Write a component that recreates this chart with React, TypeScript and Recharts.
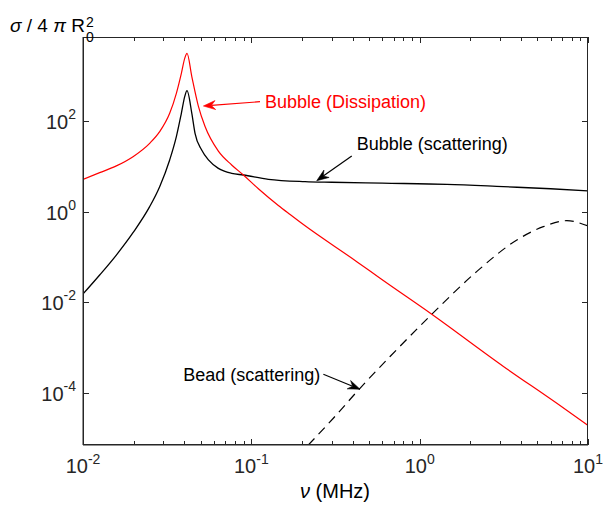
import React from 'react';
import { LineChart, Line, XAxis, YAxis, ReferenceLine } from 'recharts';

const FONT = '"Liberation Sans", Arial, Helvetica, sans-serif';
const AXIS_COLOR = '#262626';

// ---- ticks ----
const xMajorTicks = [0.01, 0.1, 1, 10];
const xTickExponents = ['-2', '-1', '0', '1'];
const xMinorTicks = [
  0.02, 0.03, 0.04, 0.05, 0.06, 0.07, 0.08, 0.09,
  0.2, 0.3, 0.4, 0.5, 0.6, 0.7, 0.8, 0.9,
  2, 3, 4, 5, 6, 7, 8, 9,
];
const yMajorTicks = [1e-4, 1e-2, 1, 1e2];
const yTickExponents = ['-4', '-2', '0', '2'];

const xDomain = [0.01, 10];
const yDomain = [7.26e-6, 7.05e3];

// ---- series: Bubble (Dissipation) ----
const dissipationFreq = [
  0.01, 0.01256, 0.01578, 0.01982, 0.02489, 0.02854, 0.03273, 0.03586, 0.0384, 0.0402, 0.0415,
  0.0443, 0.0484, 0.0531, 0.0637, 0.0764, 0.0897, 0.1101, 0.1447, 0.17, 0.2038, 0.423, 0.582,
  1.18, 3.145, 6.53, 10,
];
const dissipationValue = [
  5.16, 7.24, 10.2, 16.3, 32.1, 57.9, 147, 405, 1116, 2388, 3077,
  950, 215, 75, 21.5, 10.7, 6.43, 3.2, 1.37, 0.865, 0.52, 0.0794, 0.0341,
  0.0055, 3.9e-4, 6.0e-5, 1.95e-5,
];

// ---- series: Bubble (scattering) ----
const scatteringFreq = [
  0.01, 0.01256, 0.01578, 0.01982, 0.02489, 0.02854, 0.03273, 0.03586, 0.0384, 0.0402, 0.0415,
  0.0443, 0.0463, 0.0507, 0.0556, 0.0637, 0.0764, 0.0897, 0.1262, 0.2085, 0.3, 0.6, 1.45, 3.14,
  6, 10,
];
const scatteringValue = [
  0.01538, 0.0403, 0.111, 0.345, 1.29, 3.56, 13.8, 45.0, 147, 342, 463,
  147, 53.2, 22.9, 13.8, 9.02, 7.0, 6.43, 5.16, 4.6, 4.45, 4.25, 4.01, 3.56,
  3.2, 2.86,
];

// ---- series: Bead (scattering) ----
const beadFreq = [0.218, 0.307, 0.4325, 0.667, 1.18, 2.18, 3.78, 5.43, 7.48, 10];
const beadValue = [7.26e-6, 2.82e-5, 1.18e-4, 6.46e-4, 5.5e-3, 0.0479, 0.238, 0.468, 0.634, 0.484];

// ---- annotations ----
const annotationLabels = ['Bubble (Dissipation)', 'Bubble (scattering)', 'Bead (scattering)'];
const annotationColors = ['#ff0000', '#000000', '#000000'];
const annotationTailFreq = [0.1126, 0.395, 0.2679];
const annotationTailValue = [265, 16.9, 2.62e-4];
const annotationTipFreq = [0.0519, 0.2446, 0.4422];
const annotationTipValue = [213, 4.82, 1.23e-4];

const toPoints = (xs: number[], ys: number[]) => xs.map((x, i) => ({ x, y: ys[i] }));
const dissipationData = toPoints(dissipationFreq, dissipationValue);
const scatteringData = toPoints(scatteringFreq, scatteringValue);
const beadData = toPoints(beadFreq, beadValue);
const allXTicks = [...xMajorTicks, ...xMinorTicks].sort((a, b) => a - b);

// layout
const CHART_W = 611;
const CHART_H = 506;
const MARGIN = { top: 37, right: 23, bottom: 21, left: 23 };
const Y_AXIS_W = 60;
const X_AXIS_H = 40;
const PLOT_L = MARGIN.left + Y_AXIS_W;
const PLOT_T = MARGIN.top;
const PLOT_W = CHART_W - MARGIN.left - MARGIN.right - Y_AXIS_W;
const PLOT_H = CHART_H - MARGIN.top - MARGIN.bottom - X_AXIS_H;

const MAJOR_LEN = 6;
const MINOR_LEN = 4;

// frame-tick helpers (axis decoration only, same log mapping as the axes)
const lx0 = Math.log10(xDomain[0]);
const lx1 = Math.log10(xDomain[1]);
const ly0 = Math.log10(yDomain[0]);
const ly1 = Math.log10(yDomain[1]);
const tickX = (v: number) => PLOT_L + (PLOT_W * (Math.log10(v) - lx0)) / (lx1 - lx0);
const tickY = (v: number) => PLOT_T + PLOT_H - (PLOT_H * (Math.log10(v) - ly0)) / (ly1 - ly0);

function BottomTick(props: any) {
  const { x, y, payload } = props;
  const i = xMajorTicks.indexOf(payload.value);
  if (i < 0) return <g />;
  return (
    <text x={x} y={y + 28} textAnchor="middle" fontFamily={FONT} fontSize={20} fill="#262626">
      10<tspan dy={-9} fontSize={14}>{xTickExponents[i]}</tspan>
    </text>
  );
}

function LeftTick(props: any) {
  const { x, y, payload } = props;
  const i = yMajorTicks.indexOf(payload.value);
  return (
    <text x={x - 7} y={y + 8} textAnchor="end" fontFamily={FONT} fontSize={20} fill="#262626">
      10<tspan dy={-10} fontSize={14}>{yTickExponents[i]}</tspan>
    </text>
  );
}

const labelOffsets = [
  { dx: 5, dy: 6, anchor: 'start' },
  { dx: 5, dy: -5.5, anchor: 'start' },
  { dx: -3, dy: 6.5, anchor: 'end' },
];

function makeArrowShape(idx: number) {
  const label = annotationLabels[idx];
  const color = annotationColors[idx];
  const off = labelOffsets[idx];
  return (props: any) => {
    const x1 = Number(props.x1);
    const y1 = Number(props.y1);
    const x2 = Number(props.x2);
    const y2 = Number(props.y2);
    const ang = Math.atan2(y2 - y1, x2 - x1);
    const L = 12;
    const W = 4.5;
    const notch = 8;
    const ux = Math.cos(ang);
    const uy = Math.sin(ang);
    const px = -uy;
    const py = ux;
    const bx = x2 - ux * L;
    const by = y2 - uy * L;
    const nx = x2 - ux * notch;
    const ny = y2 - uy * notch;
    const pts = `${x2},${y2} ${bx + px * W},${by + py * W} ${nx},${ny} ${bx - px * W},${by - py * W}`;
    return (
      <g>
        <line x1={x1} y1={y1} x2={nx} y2={ny} stroke={color} strokeWidth={1.2} />
        <polygon points={pts} fill={color} stroke={color} strokeWidth={0.6} />
        <text x={x1 + off.dx} y={y1 + off.dy} textAnchor={off.anchor} fill={color} fontSize={18} fontFamily={FONT}>
          {label}
        </text>
      </g>
    );
  };
}

export default function App() {
  return (
    <div style={{ position: 'absolute', left: 0, top: 0, width: CHART_W, height: CHART_H, background: '#fff' }}>
      <LineChart width={CHART_W} height={CHART_H} margin={MARGIN}>
        <XAxis
          xAxisId="bottom"
          orientation="bottom"
          type="number"
          dataKey="x"
          scale="log"
          domain={xDomain}
          allowDataOverflow
          ticks={allXTicks}
          interval={0}
          tick={<BottomTick />}
          tickLine={false}
          tickSize={0}
          tickMargin={0}
          height={X_AXIS_H}
          axisLine={{ stroke: AXIS_COLOR, strokeWidth: 1 }}
        />
        <YAxis
          yAxisId="left"
          orientation="left"
          type="number"
          dataKey="y"
          scale="log"
          domain={yDomain}
          allowDataOverflow
          ticks={yMajorTicks}
          interval={0}
          tick={<LeftTick />}
          tickLine={false}
          tickSize={0}
          tickMargin={0}
          width={Y_AXIS_W}
          axisLine={{ stroke: AXIS_COLOR, strokeWidth: 1 }}
        />
        <Line
          data={beadData}
          xAxisId="bottom"
          yAxisId="left"
          dataKey="y"
          type="monotone"
          stroke="#000000"
          strokeWidth={1.2}
          strokeDasharray="9 6"
          dot={false}
          activeDot={false}
          isAnimationActive={false}
        />
        <Line
          data={scatteringData}
          xAxisId="bottom"
          yAxisId="left"
          dataKey="y"
          type="monotone"
          stroke="#000000"
          strokeWidth={1.3}
          dot={false}
          activeDot={false}
          isAnimationActive={false}
        />
        <Line
          data={dissipationData}
          xAxisId="bottom"
          yAxisId="left"
          dataKey="y"
          type="monotone"
          stroke="#ff0000"
          strokeWidth={1.2}
          dot={false}
          activeDot={false}
          isAnimationActive={false}
        />
        {annotationLabels.map((_, i) => (
          <ReferenceLine
            key={i}
            xAxisId="bottom"
            yAxisId="left"
            segment={[
              { x: annotationTailFreq[i], y: annotationTailValue[i] },
              { x: annotationTipFreq[i], y: annotationTipValue[i] },
            ]}
            shape={makeArrowShape(i)}
          />
        ))}
      </LineChart>
      <svg
        width={CHART_W}
        height={CHART_H}
        style={{ position: 'absolute', left: 0, top: 0, pointerEvents: 'none' }}
      >
        <rect
          x={PLOT_L + 0.5}
          y={PLOT_T + 0.5}
          width={PLOT_W - 1}
          height={PLOT_H - 1}
          fill="none"
          stroke={AXIS_COLOR}
          strokeWidth={1}
        />
        {allXTicks.map((v) => {
          const major = xMajorTicks.indexOf(v) >= 0;
          const len = major ? MAJOR_LEN : MINOR_LEN;
          const x = Math.round(tickX(v)) + 0.5;
          return (
            <g key={`xt${v}`}>
              <line x1={x} x2={x} y1={PLOT_T + PLOT_H} y2={PLOT_T + PLOT_H - len} stroke={AXIS_COLOR} strokeWidth={1} />
              <line x1={x} x2={x} y1={PLOT_T} y2={PLOT_T + len} stroke={AXIS_COLOR} strokeWidth={1} />
            </g>
          );
        })}
        {yMajorTicks.map((v) => {
          const y = Math.round(tickY(v)) + 0.5;
          return (
            <g key={`yt${v}`}>
              <line x1={PLOT_L} x2={PLOT_L + MAJOR_LEN} y1={y} y2={y} stroke={AXIS_COLOR} strokeWidth={1} />
              <line x1={PLOT_L + PLOT_W} x2={PLOT_L + PLOT_W - MAJOR_LEN} y1={y} y2={y} stroke={AXIS_COLOR} strokeWidth={1} />
            </g>
          );
        })}
        <text x={10} y={32} fontFamily={FONT} fontSize={19} fill="#000">
          <tspan fontStyle="italic">σ</tspan> / 4 <tspan fontStyle="italic">π</tspan> R
          <tspan dx={1} dy={-5} fontSize={14}>2</tspan>
          <tspan dx={-7.8} dy={15} fontSize={14}>0</tspan>
        </text>
        <text x={335} y={498} textAnchor="middle" fontFamily={FONT} fontSize={20} fill="#000">
          <tspan fontStyle="italic">ν</tspan> (MHz)
        </text>
      </svg>
    </div>
  );
}
